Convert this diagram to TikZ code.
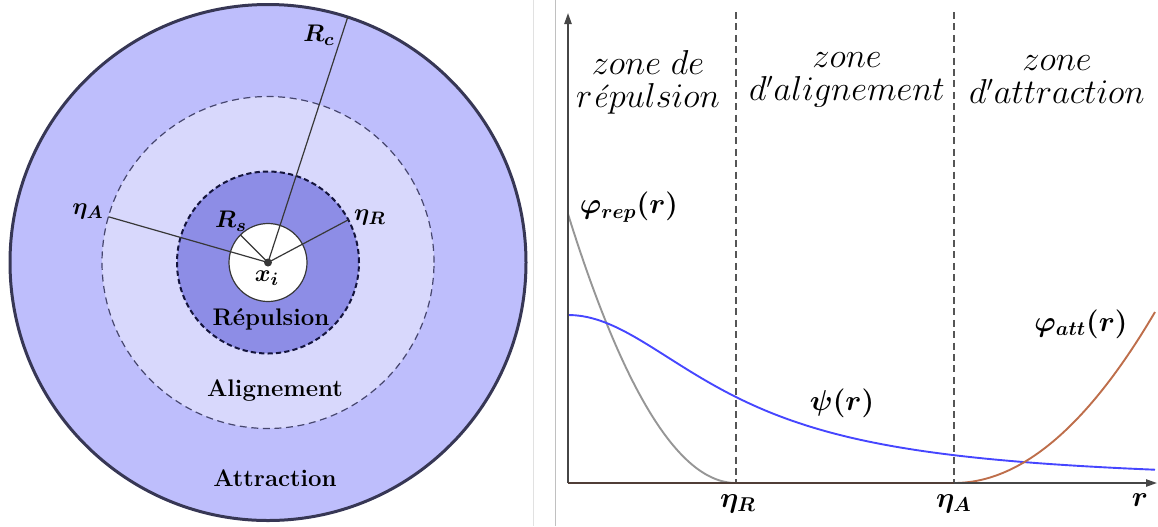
\documentclass[tikz,border=0pt]{standalone}
\usepackage{bm}
\usetikzlibrary{arrows.meta}
\definecolor{attfill}{RGB}{190,190,252}
\definecolor{alifill}{RGB}{216,216,252}
\definecolor{repfill}{RGB}{141,141,230}
\definecolor{outerline}{RGB}{55,55,85}
\definecolor{midline}{RGB}{70,70,110}
\definecolor{innerline}{RGB}{20,20,60}
\definecolor{raygray}{RGB}{55,55,55}
\definecolor{sepgray}{RGB}{192,192,192}
\definecolor{seplight}{RGB}{225,225,225}
\definecolor{axisgray}{RGB}{70,70,70}
\definecolor{xaxiscol}{RGB}{80,62,55}
\definecolor{dashgray}{RGB}{85,85,85}
\definecolor{repcurve}{RGB}{150,150,150}
\definecolor{psicurve}{RGB}{70,70,255}
\definecolor{attcurve}{RGB}{190,110,75}
\begin{document}
\begin{tikzpicture}[x=0.5pt,y=-0.5pt,
  disk/.style={circle,inner sep=0pt,outer sep=0pt},
  ray/.style={draw=raygray,line width=0.6pt},
  leftlabel/.style={inner sep=1pt,font=\fontsize{12}{14}\selectfont},
  leftmath/.style={inner sep=1pt,font=\fontsize{12.8}{14}\selectfont},
  zonelabel/.style={inner sep=0pt,align=center,font=\fontsize{16.2}{16.5}\selectfont},
  curvelabel/.style={inner sep=1pt,font=\fontsize{14}{16}\selectfont},
  axisline/.style={draw=axisgray,line width=0.9pt,-{Triangle[length=5.5pt,width=3.6pt]}},
  zoneborder/.style={draw=dashgray,line width=0.75pt,dash pattern=on 3.5pt off 2.2pt},
  curve/.style={line width=0.95pt,samples=80,smooth}
]
\useasboundingbox (0,0) rectangle (1158,526);
% ---------- left panel ----------
\coordinate (c) at (268,262.5);
\node[disk,minimum size=258pt,fill=attfill,draw=outerline,line width=1.5pt] (outer) at (c) {};
\node[disk,minimum size=166pt,fill=alifill,draw=midline,line width=0.6pt,dash pattern=on 3.5pt off 2.3pt] (mid) at (c) {};
\node[disk,minimum size=91pt,fill=repfill,draw=innerline,line width=1pt,dash pattern=on 2.6pt off 1.6pt] (inner) at (c) {};
\node[disk,minimum size=39pt,fill=white,draw=raygray,line width=0.6pt] (core) at (c) {};
\draw[ray] (c) -- (outer.72);
\draw[ray] (c) -- (mid.164);
\draw[ray] (c) -- (inner.28);
\draw[ray] (c) -- (core.135);
\node[disk,minimum size=4pt,fill=raygray] (xi) at (c) {};
\node[leftmath] (Rc) at (319,35) {$\bm{R_c}$};
\node[leftmath] (etaA) at (88,211) {$\bm{\eta_A}$};
\node[leftmath] (etaR) at (370,217) {$\bm{\eta_R}$};
\node[leftmath] (Rs) at (231,221) {$\bm{R_s}$};
\node[leftmath] (xilab) at (267,278) {$\bm{x_i}$};
\node[leftlabel] (replab) at (271,319) {\textbf{Répulsion}};
\node[leftlabel] (alilab) at (275,391) {\textbf{Alignement}};
\node[leftlabel] (attlab) at (275,478) {\textbf{Attraction}};
% ---------- separators ----------
\coordinate (sepAtop) at (533.5,0);
\coordinate (sepAbot) at (533.5,526);
\coordinate (septop) at (555.5,0);
\coordinate (sepbot) at (555.5,526);
\draw[seplight,line width=0.5pt] (sepAtop) -- (sepAbot);
\draw[sepgray,line width=0.5pt] (septop) -- (sepbot);
% ---------- right panel ----------
\coordinate (O) at (568,483);
\coordinate (ytop) at (568,13);
\coordinate (xend) at (1157,483);
\coordinate (eRtop) at (736,12);
\coordinate (eR) at (736,483);
\coordinate (eAtop) at (954,12);
\coordinate (eA) at (954,483);
\draw[zoneborder] (eRtop) -- (eR);
\draw[zoneborder] (eAtop) -- (eA);
\draw[curve,draw=repcurve] plot[domain=568:736] (\x,{483-269*((736-\x)/168)^2});
\draw[curve,draw=psicurve] plot[domain=568:1155] (\x,{483-168/(1+((\x-568)/172)^2)});
\draw[curve,draw=attcurve] plot[domain=954:1155] (\x,{483-171*((\x-954)/201)^2});
\draw[axisline] (O) -- (ytop);
\draw[axisline] (O) -- (xend);
\draw[draw=xaxiscol,line width=0.9pt] (O) -- (eA);
\node[zonelabel] (z1) at (648,82) {$zone\ de$\\$r$\textit{é}$pulsion$};
\node[zonelabel] (z2) at (847,80) {$zone$\\$d'alignement$};
\node[zonelabel] (z3) at (1057,80) {$zone$\\$d'attraction$};
\node[curvelabel] (lrep) at (629,207) {$\bm{\varphi_{rep}(r)}$};
\node[curvelabel] (latt) at (1081,324) {$\bm{\varphi_{att}(r)}$};
\node[curvelabel] (lpsi) at (842,403) {$\bm{\psi(r)}$};
\node[curvelabel] (leR) at (738,504) {$\bm{\eta_R}$};
\node[curvelabel] (leA) at (954,504) {$\bm{\eta_A}$};
\node[curvelabel] (lr) at (1140,500) {$\bm{r}$};
\end{tikzpicture}
\end{document}
